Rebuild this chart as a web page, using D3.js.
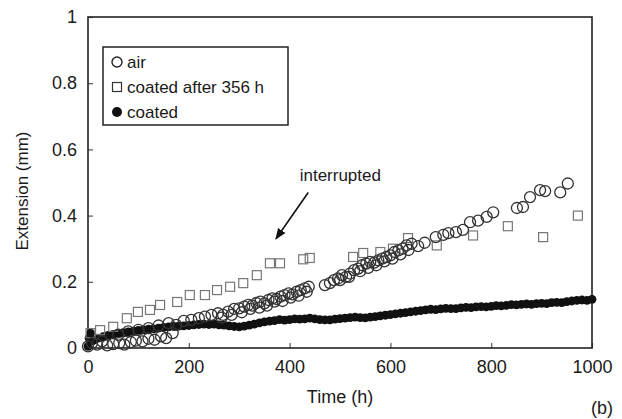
<!DOCTYPE html>
<html>
<head>
<meta charset="utf-8">
<script src="https://cdn.jsdelivr.net/npm/d3@7"></script>
<style>
  body { margin: 0; background: #fff; }
  svg { font-family: "Liberation Sans", Arial, sans-serif; }
  .axis text { fill: #1a1a1a; font-size: 18px; }
  .axis line { stroke: #555; stroke-width: 1.2; }
</style>
</head>
<body>
<div id="chart"></div>
<script>
// tick values
const xTicks = [0, 200, 400, 600, 800, 1000];
const yTicks = [0, 0.2, 0.4, 0.6, 0.8, 1];

// air (open circles)
const airTime = [0, 8, 18, 28, 38, 50, 62, 72, 85, 95, 108, 120, 132, 145, 155, 168,
   60, 80, 100, 120, 140, 160, 175, 190, 205, 220, 232, 245, 258, 268, 278, 290,
   300, 310, 318, 326, 334, 342, 350, 358, 366, 374, 382, 390, 398, 406, 414, 422,
   430, 438, 470, 480, 488, 496, 504, 512, 520, 528, 536, 544, 552, 560, 568, 576,
   584, 592, 600, 608, 616, 624, 632, 642, 655, 668, 690, 705, 715, 730, 744, 758,
   774, 791, 804, 851, 863, 877, 897, 907, 937, 952,
   265, 285, 305, 322, 340, 355, 370, 386, 402, 418, 434, 500, 518, 540, 556, 572, 588, 604, 620, 636];
const airExt = [0.005, 0.015, 0.01, 0.02, 0.008, 0.012, 0.015, 0.01, 0.018, 0.022, 0.02, 0.028, 0.025, 0.035, 0.03, 0.045,
   0.04, 0.05, 0.055, 0.06, 0.068, 0.075, 0.07, 0.082, 0.085, 0.09, 0.095, 0.1, 0.105, 0.1, 0.11, 0.118,
   0.12, 0.125, 0.13, 0.128, 0.136, 0.14, 0.135, 0.145, 0.15, 0.148, 0.155, 0.16, 0.165, 0.162, 0.17, 0.175,
   0.18, 0.185, 0.19, 0.196, 0.205, 0.21, 0.22, 0.215, 0.225, 0.235, 0.24, 0.25, 0.255, 0.26, 0.258, 0.265,
   0.27, 0.275, 0.28, 0.29, 0.295, 0.3, 0.31, 0.315, 0.308, 0.318, 0.335, 0.342, 0.347, 0.35, 0.357, 0.38,
   0.385, 0.396, 0.41, 0.423, 0.426, 0.456, 0.477, 0.474, 0.47, 0.497,
   0.092, 0.1, 0.108, 0.118, 0.122, 0.128, 0.14, 0.142, 0.152, 0.158, 0.17, 0.205, 0.215, 0.232, 0.242, 0.25, 0.262, 0.27, 0.283, 0.296];

// coated after 356 h (open squares)
const afterTime = [5, 24, 50, 77, 99, 123, 143, 177, 202, 232, 256, 282, 308, 335, 361, 381,
   427, 440, 526, 546, 580, 605, 635, 692, 764, 833, 903, 972];
const afterExt = [0.045, 0.054, 0.064, 0.09, 0.109, 0.115, 0.13, 0.139, 0.16, 0.16, 0.175, 0.185, 0.196, 0.22, 0.256, 0.256,
   0.268, 0.272, 0.275, 0.287, 0.29, 0.3, 0.332, 0.31, 0.34, 0.368, 0.335, 0.4];

// coated (filled circles)
const coatedTime = [0, 2, 5, 10, 20, 30, 40, 50, 60, 70, 80, 90, 100, 110, 120, 130, 140, 150, 160, 170,
   180, 190, 200, 210, 220, 230, 240, 250, 260, 270, 280, 290, 300, 310, 320, 330, 340, 350, 360, 370,
   380, 390, 400, 410, 420, 430, 440, 450, 460, 470, 480, 490, 500, 510, 520, 530, 540, 550, 560, 570,
   580, 590, 600, 610, 620, 630, 640, 650, 660, 670, 680, 690, 700, 710, 720, 730, 740, 750, 760, 770,
   780, 790, 800, 810, 820, 830, 840, 850, 860, 870, 880, 890, 900, 910, 920, 930, 940, 950, 960, 970,
   980, 990, 1000];
const coatedExt = [0.005, 0.03, 0.045, 0.022, 0.03, 0.034, 0.038, 0.041, 0.044, 0.046, 0.049, 0.051, 0.053, 0.055, 0.057, 0.058, 0.06, 0.062, 0.064, 0.065,
   0.066, 0.067, 0.068, 0.07, 0.071, 0.072, 0.071, 0.072, 0.07, 0.069, 0.067, 0.065, 0.064, 0.066, 0.069, 0.072, 0.076, 0.079, 0.081, 0.083,
   0.086, 0.084, 0.086, 0.088, 0.087, 0.088, 0.09, 0.088, 0.086, 0.085, 0.085, 0.087, 0.089, 0.09, 0.092, 0.093, 0.092, 0.091, 0.093, 0.095,
   0.097, 0.099, 0.101, 0.103, 0.105, 0.107, 0.109, 0.111, 0.113, 0.115, 0.117, 0.116, 0.118, 0.12, 0.119, 0.119, 0.121, 0.123, 0.122, 0.124,
   0.125, 0.124, 0.126, 0.128, 0.127, 0.129, 0.131, 0.13, 0.132, 0.133, 0.132, 0.134, 0.135, 0.134, 0.137, 0.138, 0.137, 0.14, 0.142, 0.144,
   0.145, 0.144, 0.147];

const legendLabels = ["air", "coated after 356 h", "coated"];

const W = 622, H = 419;
const margins = { top: 17, left: 88, right: 30, bottom: 71 };
const cwidth = W - margins.left - margins.right;
const cheight = H - margins.top - margins.bottom;

const svg = d3.select("#chart").append("svg")
   .attr("width", W)
   .attr("height", H);

const g = svg.append("g")
   .attr("transform", "translate(" + margins.left + "," + margins.top + ")");

const x = d3.scaleLinear().domain([0, 1000]).range([0, cwidth]);
const y = d3.scaleLinear().domain([0, 1]).range([cheight, 0]);

// axes, ticks pointing inward
g.append("g")
   .attr("class", "axis")
   .attr("transform", "translate(0," + cheight + ")")
   .call(d3.axisBottom(x).tickValues(xTicks).tickSizeInner(-5).tickSizeOuter(0).tickPadding(12).tickFormat(d => d))
   .call(a => a.select(".domain").remove());

g.append("g")
   .attr("class", "axis")
   .call(d3.axisLeft(y).tickValues(yTicks).tickSizeInner(-5).tickSizeOuter(0).tickPadding(11).tickFormat(d => d))
   .call(a => a.select(".domain").remove());

// frame
g.append("rect")
   .attr("width", cwidth)
   .attr("height", cheight)
   .attr("fill", "none")
   .attr("stroke", "#222")
   .attr("stroke-width", 1.6);

// coated, filled
g.selectAll(".coated")
   .data(coatedTime)
 .enter().append("circle")
   .attr("class", "coated")
   .attr("cx", d => x(d))
   .attr("cy", (d, i) => y(coatedExt[i]))
   .attr("r", 4.4)
   .attr("fill", "#111");

// coated after 356 h, squares
const sq = 9;
g.selectAll(".after")
   .data(afterTime)
 .enter().append("rect")
   .attr("class", "after")
   .attr("x", d => x(d) - sq / 2)
   .attr("y", (d, i) => y(afterExt[i]) - sq / 2)
   .attr("width", sq)
   .attr("height", sq)
   .attr("fill", "none")
   .attr("stroke", "#777")
   .attr("stroke-width", 1.2);

// air, open circles
g.selectAll(".air")
   .data(airTime)
 .enter().append("circle")
   .attr("class", "air")
   .attr("cx", d => x(d))
   .attr("cy", (d, i) => y(airExt[i]))
   .attr("r", 5.5)
   .attr("fill", "none")
   .attr("stroke", "#333")
   .attr("stroke-width", 1.3);

// legend
const legend = svg.append("g").attr("transform", "translate(103,47)");
legend.append("rect")
   .attr("width", 185)
   .attr("height", 78)
   .attr("fill", "#fff")
   .attr("stroke", "#222")
   .attr("stroke-width", 1.5);

const rows = legend.selectAll(".lrow")
   .data(legendLabels)
 .enter().append("g")
   .attr("class", "lrow")
   .attr("transform", (d, i) => "translate(14," + (15 + i * 25) + ")");

rows.filter((d, i) => i === 0).append("circle")
   .attr("r", 5).attr("fill", "none").attr("stroke", "#222").attr("stroke-width", 1.4);
rows.filter((d, i) => i === 1).append("rect")
   .attr("x", -4.5).attr("y", -4.5).attr("width", 9).attr("height", 9)
   .attr("fill", "none").attr("stroke", "#333").attr("stroke-width", 1.2);
rows.filter((d, i) => i === 2).append("circle")
   .attr("r", 5).attr("fill", "#111");

rows.append("text")
   .attr("x", 10)
   .attr("dy", "0.36em")
   .attr("font-size", 17)
   .attr("fill", "#1a1a1a")
   .text(d => d);

// annotation
svg.append("defs").append("marker")
   .attr("id", "arrow")
   .attr("viewBox", "0 0 10 10")
   .attr("refX", 9).attr("refY", 5)
   .attr("markerWidth", 7).attr("markerHeight", 7)
   .attr("orient", "auto")
 .append("path")
   .attr("d", "M0,1 L10,5 L0,9 Z")
   .attr("fill", "#111");

g.append("line")
   .attr("x1", x(437)).attr("y1", y(0.47))
   .attr("x2", x(373)).attr("y2", y(0.33))
   .attr("stroke", "#111")
   .attr("stroke-width", 1.6)
   .attr("marker-end", "url(#arrow)");

g.append("text")
   .attr("x", x(420))
   .attr("y", y(0.505))
   .attr("font-size", 17)
   .attr("fill", "#1a1a1a")
   .text("interrupted");

// axis titles
svg.append("text")
   .attr("x", margins.left + cwidth / 2)
   .attr("y", 403)
   .attr("text-anchor", "middle")
   .attr("font-size", 18)
   .attr("fill", "#1a1a1a")
   .text("Time (h)");

svg.append("text")
   .attr("transform", "translate(28," + (margins.top + 174) + ") rotate(-90)")
   .attr("text-anchor", "middle")
   .attr("font-size", 17)
   .attr("fill", "#1a1a1a")
   .text("Extension (mm)");

svg.append("text")
   .attr("x", 602)
   .attr("y", 414)
   .attr("text-anchor", "middle")
   .attr("font-size", 18)
   .attr("fill", "#1a1a1a")
   .text("(b)");
</script>
</body>
</html>
